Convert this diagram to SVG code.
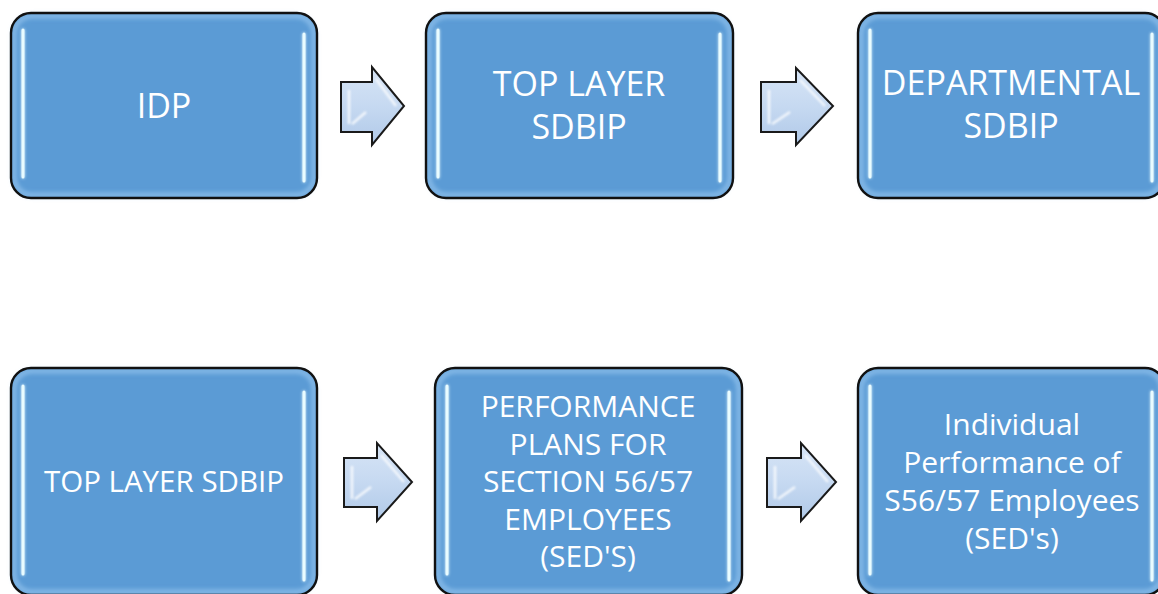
<svg xmlns="http://www.w3.org/2000/svg" width="1158" height="594" viewBox="0 0 1158 594">
<defs>
<style>
.box{fill:#5b9bd5;}
.rim{fill:none;stroke:#a9d3f7;stroke-width:5;opacity:0.55;filter:url(#blur2);}
.border{fill:none;stroke:#111;stroke-width:2.4;}
.hl{stroke:#e9fcff;stroke-width:3;stroke-linecap:round;filter:url(#glow);}
.lbl{font-family:"Open Sans","Noto Sans",sans-serif;fill:#ffffff;text-anchor:middle;}
.big{font-size:34px;}
.mid{font-size:29.5px;}
.sm{font-size:30px;}
.arrow{fill:url(#ag);stroke:#1a1a1a;stroke-width:2;stroke-linejoin:miter;}
.bevel{fill:none;stroke:#ffffff;stroke-width:2.5;opacity:0.8;filter:url(#blur1);}
</style>
<linearGradient id="ag" x1="0" y1="0" x2="0" y2="1">
<stop offset="0" stop-color="#d7e5f6"/>
<stop offset="0.5" stop-color="#c6d9f1"/>
<stop offset="1" stop-color="#b0c9e8"/>
</linearGradient>
<filter id="blur2" x="-10%" y="-10%" width="120%" height="120%"><feGaussianBlur stdDeviation="2"/></filter>
<filter id="blur1" filterUnits="userSpaceOnUse" x="0" y="0" width="1158" height="594"><feGaussianBlur stdDeviation="0.8"/></filter>
<filter id="glow" filterUnits="userSpaceOnUse" x="0" y="0" width="1158" height="594">
<feGaussianBlur in="SourceGraphic" stdDeviation="1.6" result="b"/>
<feMerge><feMergeNode in="b"/><feMergeNode in="SourceGraphic"/></feMerge>
</filter>
</defs>
<rect width="1158" height="594" fill="#ffffff"/>

<g id="node-idp">
<rect class="box" x="11" y="13" width="306" height="185" rx="20"/>
<rect class="rim" x="14" y="16" width="300" height="179" rx="18"/>
<line class="hl" x1="23" y1="30" x2="23" y2="177"/>
<line class="hl" x1="304" y1="34" x2="304" y2="181"/>
<rect class="border" x="11" y="13" width="306" height="185" rx="20"/>
<text class="lbl big" x="164" y="118">IDP</text>
</g>

<g id="node-top-layer-1">
<rect class="box" x="426" y="13" width="307" height="185" rx="20"/>
<rect class="rim" x="429" y="16" width="301" height="179" rx="18"/>
<line class="hl" x1="438" y1="30" x2="438" y2="177"/>
<line class="hl" x1="720" y1="34" x2="720" y2="181"/>
<rect class="border" x="426" y="13" width="307" height="185" rx="20"/>
<text class="lbl big" x="579" y="96">TOP LAYER</text>
<text class="lbl big" x="579" y="139">SDBIP</text>
</g>

<g id="node-departmental">
<rect class="box" x="858" y="13" width="307" height="185" rx="20"/>
<rect class="rim" x="861" y="16" width="301" height="179" rx="18"/>
<line class="hl" x1="870" y1="30" x2="870" y2="177"/>
<line class="hl" x1="1152" y1="34" x2="1152" y2="181"/>
<rect class="border" x="858" y="13" width="307" height="185" rx="20"/>
<text class="lbl big" x="1011" y="95">DEPARTMENTAL</text>
<text class="lbl big" x="1011" y="138">SDBIP</text>
</g>

<g id="node-top-layer-2">
<rect class="box" x="11" y="368" width="306" height="227" rx="20"/>
<rect class="rim" x="14" y="371" width="300" height="221" rx="18"/>
<line class="hl" x1="23" y1="386" x2="23" y2="574"/>
<line class="hl" x1="304" y1="392" x2="304" y2="580"/>
<rect class="border" x="11" y="368" width="306" height="227" rx="20"/>
<text class="lbl mid" x="164" y="492">TOP LAYER SDBIP</text>
</g>

<g id="node-performance-plans">
<rect class="box" x="435" y="368" width="307" height="227" rx="20"/>
<rect class="rim" x="438" y="371" width="301" height="221" rx="18"/>
<line class="hl" x1="447" y1="386" x2="447" y2="574"/>
<line class="hl" x1="729" y1="392" x2="729" y2="580"/>
<rect class="border" x="435" y="368" width="307" height="227" rx="20"/>
<text class="lbl sm" x="588" y="417">PERFORMANCE</text>
<text class="lbl sm" x="588" y="455">PLANS FOR</text>
<text class="lbl sm" x="588" y="492">SECTION 56/57</text>
<text class="lbl sm" x="588" y="530">EMPLOYEES</text>
<text class="lbl sm" x="588" y="567">(SED'S)</text>
</g>

<g id="node-individual">
<rect class="box" x="858" y="368" width="307" height="227" rx="20"/>
<rect class="rim" x="861" y="371" width="301" height="221" rx="18"/>
<line class="hl" x1="870" y1="386" x2="870" y2="574"/>
<line class="hl" x1="1152" y1="392" x2="1152" y2="580"/>
<rect class="border" x="858" y="368" width="307" height="227" rx="20"/>
<text class="lbl sm" x="1012" y="435">Individual</text>
<text class="lbl sm" x="1012" y="473">Performance of</text>
<text class="lbl sm" x="1012" y="511">S56/57 Employees</text>
<text class="lbl sm" x="1012" y="549">(SED's)</text>
</g>

<g id="connectors">
<g id="arrow-1">
<path class="arrow" d="M341,82 L372,82 L372,67 L404,106 L372,145 L372,132 L341,132 Z"/>
<path class="bevel" d="M349,90 L349,124 M376,79 L396,106 M352,124 L366,112"/>
</g>
<g id="arrow-2">
<path class="arrow" d="M761,82 L796,82 L796,68 L833,106 L796,145 L796,132 L761,132 Z"/>
<path class="bevel" d="M769,90 L769,124 M800,80 L825,106 M772,124 L790,112"/>
</g>
<g id="arrow-3">
<path class="arrow" d="M344,458 L377,458 L377,443 L412,482 L377,521 L377,507 L344,507 Z"/>
<path class="bevel" d="M352,466 L352,499 M381,455 L404,482 M355,499 L371,487"/>
</g>
<g id="arrow-4">
<path class="arrow" d="M767,458 L801,458 L801,443 L836,482 L801,521 L801,507 L767,507 Z"/>
<path class="bevel" d="M775,466 L775,499 M805,455 L828,482 M778,499 L795,487"/>
</g>
</g>
</svg>
